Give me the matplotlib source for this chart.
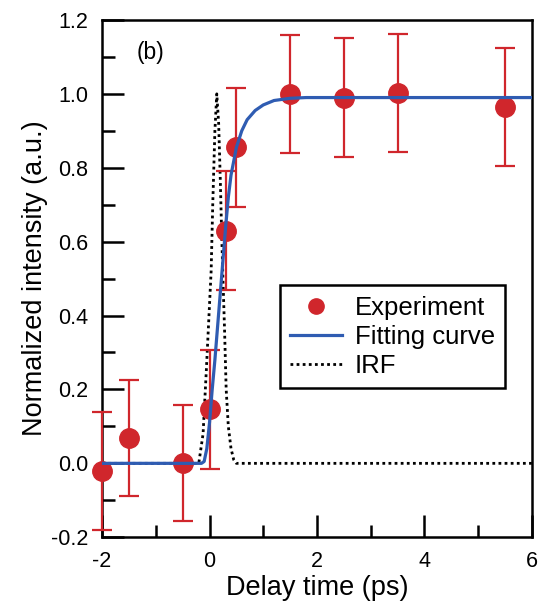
import numpy as np
import matplotlib.pyplot as plt
from matplotlib.lines import Line2D

# =============================
# DATA
# =============================
delay = [-2.0, -1.5, -0.5, 0.0, 0.3, 0.5, 1.5, 2.5, 3.5, 5.5]
intensity = [-0.02, 0.068, 0.0, 0.146, 0.63, 0.855, 1.0, 0.99, 1.003, 0.965]
err = [0.16, 0.157, 0.157, 0.16, 0.16, 0.16, 0.16, 0.16, 0.16, 0.16]

fit_t = [-2.0, -0.15, -0.1, -0.05, 0.0, 0.05, 0.1, 0.15, 0.2, 0.25, 0.3,
         0.35, 0.4, 0.5, 0.6, 0.7, 0.85, 1.0, 1.2, 1.5, 1.8, 6.0]
fit_y = [0.0, 0.0, 0.005, 0.04, 0.11, 0.2, 0.28, 0.37, 0.46, 0.55, 0.64,
         0.72, 0.78, 0.855, 0.9, 0.93, 0.955, 0.97, 0.982, 0.988, 0.99, 0.99]

irf_t = [-2.0, -0.2, -0.12, -0.06, 0.0, 0.03, 0.06, 0.1, 0.135, 0.17, 0.2,
         0.23, 0.25, 0.28, 0.31, 0.35, 0.4, 0.45, 0.5, 6.0]
irf_y = [0.0, 0.0, 0.08, 0.25, 0.43, 0.52, 0.7, 0.9, 1.0, 0.92, 0.77,
         0.6, 0.5, 0.36, 0.2, 0.1, 0.04, 0.01, 0.0, 0.0]

red = "#d0262c"
blue = "#2f5cb2"

# =============================
# PLOT
# =============================
plt.rcParams["font.family"] = ["Liberation Sans", "DejaVu Sans"]
plt.rcParams["axes.unicode_minus"] = False

fig = plt.figure(figsize=(5.4, 6.05), dpi=100)
ax = fig.add_axes([0.189, 0.112, 0.796, 0.855])

eb = ax.errorbar(delay, intensity, yerr=err, fmt="o", color=red, ms=14,
                 elinewidth=1.6, capsize=7, capthick=1.6, zorder=3)
for a in eb.get_children():
    a.set_clip_on(False)
ax.plot(fit_t, fit_y, color=blue, lw=2.3, zorder=4)
ax.plot(irf_t, irf_y, color="black", lw=2.0, ls=(0, (1, 1.2)), zorder=2)

ax.set_xlim(-2, 6)
ax.set_ylim(-0.2, 1.2)
ax.set_xticks([-2, 0, 2, 4, 6])
ax.set_xticks([-1, 1, 3, 5], minor=True)
ax.set_yticks([-0.2, 0.0, 0.2, 0.4, 0.6, 0.8, 1.0, 1.2])
ax.set_yticks(np.arange(-0.1, 1.2, 0.2), minor=True)
ax.set_yticklabels(["-0.2", "0.0", "0.2", "0.4", "0.6", "0.8", "1.0", "1.2"])

ax.tick_params(which="both", direction="in", top=False, right=False,
               width=1.8, labelsize=15.5, pad=10)
ax.tick_params(which="major", length=16)
ax.tick_params(which="minor", length=9)
for s in ax.spines.values():
    s.set_linewidth(1.8)

ax.set_xlabel("Delay time (ps)", fontsize=19.5, labelpad=2)
ax.set_ylabel("Normalized intensity (a.u.)", fontsize=19.5, labelpad=2)
ax.text(0.08, 0.938, "(b)", transform=ax.transAxes, fontsize=16.5,
        va="center", ha="left")

handles = [
    Line2D([], [], ls="none", marker="o", ms=11, color=red),
    Line2D([], [], color=blue, lw=2.3),
    Line2D([], [], color="black", lw=2.0, ls=(0, (1, 1.2))),
]
labels = ["Experiment", "Fitting curve", "IRF"]
leg = ax.legend(handles, labels, loc="upper left",
                bbox_to_anchor=(0.414, 0.487),
                fontsize=18.5, fancybox=False, edgecolor="black",
                framealpha=1, handlelength=2.0, borderpad=0.4,
                labelspacing=0.2, handletextpad=0.5, borderaxespad=0)
leg.get_frame().set_linewidth(1.8)

plt.savefig("out.png", dpi=100)
